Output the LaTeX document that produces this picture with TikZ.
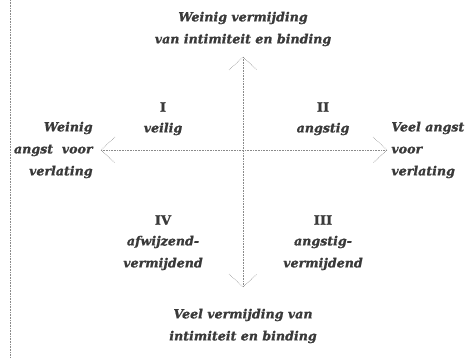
\documentclass[tikz,border=0pt]{standalone}
\usepackage{fontspec}
\setmainfont{DejaVu Serif}[
  BoldFont={DejaVu Serif Bold},
  ItalicFont={DejaVu Serif Italic},
  BoldItalicFont={DejaVu Serif Bold Italic},
  BoldItalicFeatures={FakeBold=1.2},
  BoldFeatures={FakeBold=1.2}]
\usepackage{xcolor}
\usetikzlibrary{calc}
\definecolor{ink}{HTML}{3A3A3A}
\definecolor{axisgray}{HTML}{8A8A8A}

\begin{document}
\begin{tikzpicture}[x=1pt, y=-1pt, thick,
    lbl/.style={text=ink, font=\bfseries\itshape\fontsize{12.6}{22}\selectfont, align=center, inner sep=0pt},
    roman/.style={text=ink, font=\bfseries\fontsize{13}{15}\selectfont, inner sep=0pt},
    axis/.style={draw=axisgray, densely dotted, line width=0.6pt}]
        \useasboundingbox (0,0) rectangle (470,358);

        % border line
        \coordinate (b1) at (10,0);
        \coordinate (b2) at (10,358);
        \draw[axis] (b1) -- (b2);

        % axis ends
        \coordinate (top) at (243,57);
        \coordinate (bot) at (243,287);
        \coordinate (lft) at (101,150);
        \coordinate (rgt) at (387,150);

        \draw[axis] (top) -- (bot);
        \draw[axis] (lft) -- (rgt);
        \draw[axis] ($(top)+(-14,13)$) -- (top) -- ($(top)+(14,13)$);
        \draw[axis] ($(bot)+(-14,-13)$) -- (bot) -- ($(bot)+(14,-13)$);
        \draw[axis] ($(lft)+(14,-13)$) -- (lft) -- ($(lft)+(14,13)$);
        \draw[axis] ($(rgt)+(-14,-13)$) -- (rgt) -- ($(rgt)+(-14,13)$);

        % axis labels
        \node[lbl] (weinigverm) at (243,29) {Weinig vermijding\\van intimiteit en binding};
        \node[lbl] (veelverm) at (243,326) {Veel vermijding van\\intimiteit en binding};
        \node[lbl, align=right, anchor=east] (weinigangst) at (93,150) {Weinig\\angst\ \ voor\\verlating};
        \node[lbl, align=left, anchor=west] (veelangst) at (391,150) {Veel angst\\voor\\verlating};

        % quadrants
        \node[roman] (q1) at (163,107) {I};
        \node[lbl] (q1t) at (163,129) {veilig};
        \node[roman] (q2) at (323,107) {II};
        \node[lbl] (q2t) at (323,129) {angstig};
        \node[roman] (q4) at (163,220) {IV};
        \node[lbl] (q4t) at (163,253) {afwijzend-\\vermijdend};
        \node[roman] (q3) at (323,220) {III};
        \node[lbl] (q3t) at (323,253) {angstig-\\vermijdend};
      \end{tikzpicture}
\end{document}
